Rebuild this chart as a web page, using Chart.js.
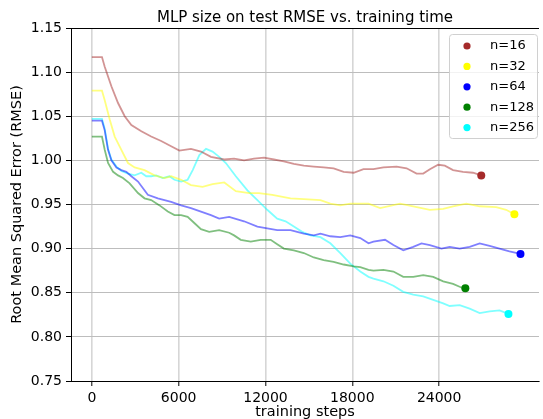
<!DOCTYPE html>
<html>
<head>
<meta charset="utf-8">
<script src="https://cdn.jsdelivr.net/npm/chart.js@4"></script>
<style>
  body { margin: 0; background: #fff; }
</style>
</head>
<body>
<canvas id="rmseChart" width="543" height="419"></canvas>
<script>
// series: training step -> test RMSE
const labels = ["n=16", "n=32", "n=64", "n=128", "n=256"];

const steps16 = [0,700,890,1350,1810,2270,2730,3420,4100,4790,5480,6050,6850,7540,8230,9150,9830,10520,11210,11900,12580,13270,13960,14650,15340,16020,16710,17400,18090,18770,19460,20150,21060,21750,22440,22900,23360,23930,24390,24960,25650,26340,26910];
const rmse16 = [1.117,1.117,1.106,1.084,1.065,1.050,1.040,1.033,1.027,1.022,1.016,1.011,1.013,1.010,1.004,1.001,1.002,1.000,1.002,1.003,1.001,0.999,0.996,0.994,0.993,0.992,0.991,0.987,0.986,0.990,0.990,0.992,0.993,0.991,0.985,0.985,0.990,0.995,0.994,0.989,0.987,0.986,0.983];

const steps32 = [0,700,890,1240,1580,2040,2500,2960,3640,4330,5020,5480,6170,6850,7650,8340,9150,9950,10870,11550,12470,13730,14650,15800,16480,17170,17860,19120,19920,21300,22210,23360,24280,24960,25880,26800,27940,28630,29200];
const rmse32 = [1.079,1.079,1.068,1.046,1.027,1.012,0.997,0.992,0.989,0.983,0.980,0.982,0.978,0.972,0.970,0.973,0.975,0.965,0.963,0.963,0.961,0.957,0.956,0.955,0.951,0.949,0.951,0.951,0.946,0.951,0.948,0.944,0.945,0.948,0.951,0.948,0.947,0.944,0.939];

const steps64 = [0,700,890,1120,1350,1700,2040,2380,2730,3190,3870,4560,5480,6170,6850,7540,8230,8800,9490,10520,11440,12120,12810,13730,14650,15340,15800,16480,17170,17860,18550,19120,19460,20260,20840,21520,22210,22780,23360,24160,24730,25420,26110,26800,27490,28170,28860,29620];
const rmse64 = [1.045,1.045,1.034,1.012,1.000,0.992,0.989,0.987,0.982,0.976,0.961,0.957,0.953,0.949,0.946,0.942,0.938,0.934,0.936,0.931,0.925,0.923,0.921,0.921,0.917,0.915,0.917,0.914,0.913,0.915,0.912,0.906,0.908,0.910,0.904,0.898,0.902,0.906,0.904,0.900,0.902,0.900,0.902,0.906,0.903,0.900,0.897,0.894];

const steps128 = [0,700,890,1120,1470,1810,2150,2610,3190,3640,4100,4680,5250,5710,6170,6620,7080,7540,8110,8800,9490,9830,10290,10980,11670,12360,12810,13270,13960,14650,15340,16020,16710,17400,18090,18550,19120,19460,20150,20840,21520,22210,22900,23590,24280,24960,25530,25810];
const rmse128 = [1.027,1.027,1.012,0.997,0.987,0.983,0.980,0.974,0.963,0.957,0.955,0.949,0.942,0.938,0.938,0.936,0.929,0.922,0.919,0.921,0.918,0.915,0.910,0.908,0.910,0.910,0.905,0.900,0.898,0.895,0.890,0.887,0.885,0.882,0.880,0.879,0.876,0.875,0.876,0.874,0.868,0.868,0.870,0.868,0.863,0.860,0.856,0.855];

const steps256 = [0,700,890,1120,1350,1700,2040,2500,2960,3420,3760,4100,4450,4900,5360,5710,6170,6620,6970,7430,7890,8340,8800,9260,9950,10750,11440,12120,12810,13390,13960,14530,15110,15800,16480,17170,17860,18550,19120,19460,20150,20840,21520,22210,22900,23590,24280,24730,25420,26110,26800,27490,28170,28790];
const rmse256 = [1.047,1.047,1.036,1.013,1.001,0.993,0.988,0.985,0.983,0.986,0.982,0.982,0.983,0.980,0.982,0.978,0.976,0.978,0.989,1.006,1.013,1.010,1.004,0.997,0.982,0.966,0.955,0.944,0.934,0.931,0.925,0.919,0.915,0.913,0.906,0.895,0.883,0.874,0.868,0.866,0.863,0.858,0.851,0.848,0.846,0.842,0.838,0.835,0.836,0.832,0.827,0.829,0.830,0.826];

const xTicks = [0, 6000, 12000, 18000, 24000];
const yTicks = [0.75, 0.80, 0.85, 0.90, 0.95, 1.00, 1.05, 1.10, 1.15];

const solid = ["#a52a2a", "#ffff00", "#0000ff", "#008000", "#00ffff"];
const faded = ["rgba(165,42,42,0.5)", "rgba(255,255,0,0.5)", "rgba(0,0,255,0.5)", "rgba(0,128,0,0.5)", "rgba(0,255,255,0.5)"];

const allSteps = [steps16, steps32, steps64, steps128, steps256];
const allRmse = [rmse16, rmse32, rmse64, rmse128, rmse256];

const font = "DejaVu Sans";

// build datasets; only the last point of each run gets a dot
const datasets = labels.map((label, i) => {
    const pts = allSteps[i].map((s, j) => ({ x: s, y: allRmse[i][j] }));
    const last = pts.length - 1;
    return {
        label,
        data: pts,
        borderColor: faded[i],
        borderWidth: 1.8,
        tension: 0,
        pointRadius: ctx => ctx.dataIndex === last ? 4 : 0,
        pointBackgroundColor: solid[i],
        pointBorderWidth: 0,
        pointHoverRadius: 0
    };
});

// matplotlib-like legend inside the axes + top spine
const boxLegend = {
    id: "boxLegend",
    afterDraw(chart) {
        const ctx = chart.ctx;
        const area = chart.chartArea;
        ctx.save();
        ctx.strokeStyle = "#000";
        ctx.lineWidth = 1;
        ctx.beginPath();
        ctx.moveTo(area.left, area.top + 0.5);
        ctx.lineTo(area.right, area.top + 0.5);
        ctx.stroke();

        const bx = 449.5, by = 34.5, bw = 88, bh = 104, r = 3;
        ctx.fillStyle = "rgba(255,255,255,0.8)";
        ctx.strokeStyle = "#d0d0d0";
        ctx.beginPath();
        ctx.roundRect(bx, by, bw, bh, r);
        ctx.fill();
        ctx.stroke();

        ctx.font = "13px '" + font + "'";
        ctx.textBaseline = "middle";
        ctx.textAlign = "left";
        chart.data.datasets.forEach((ds, i) => {
            const y = 46 + i * 20.4;
            ctx.fillStyle = solid[i];
            ctx.beginPath();
            ctx.arc(467, y, 3.6, 0, Math.PI * 2);
            ctx.fill();
            ctx.fillStyle = "#000";
            ctx.fillText(ds.label, 490, y);
        });
        ctx.restore();
    }
};

new Chart(document.getElementById("rmseChart").getContext("2d"), {
    type: "line",
    data: { datasets },
    plugins: [boxLegend],
    options: {
        responsive: false,
        animation: false,
        layout: { padding: 0 },
        plugins: {
            legend: { display: false },
            tooltip: { enabled: false },
            title: {
                display: true,
                text: "MLP size on test RMSE vs. training time",
                fullSize: false,
                color: "#000",
                font: { family: font, size: 15, weight: "normal" },
                padding: { top: 9, bottom: 1 }
            }
        },
        scales: {
            x: {
                type: "linear",
                min: -1440,
                max: 30900,
                afterBuildTicks: s => { s.ticks = xTicks.map(v => ({ value: v })); },
                afterFit: s => { s.height = 38; },
                ticks: {
                    color: "#000",
                    padding: 4,
                    maxRotation: 0,
                    font: { family: font, size: 14 },
                    callback: v => String(v)
                },
                grid: { color: "#d6d6d6", lineWidth: 1.6, tickColor: "#000", tickLength: 5, tickWidth: 1 },
                border: { display: true, color: "#000", width: 1 },
                title: {
                    display: true,
                    text: "training steps",
                    color: "#000",
                    font: { family: font, size: 14.5, lineHeight: 1 },
                    padding: { top: 0, bottom: 0 }
                }
            },
            y: {
                min: 0.75,
                max: 1.15,
                afterBuildTicks: s => { s.ticks = yTicks.map(v => ({ value: v })); },
                afterFit: s => { s.width = 71; },
                ticks: {
                    color: "#000",
                    padding: 4,
                    font: { family: font, size: 14 },
                    callback: v => Number(v).toFixed(2)
                },
                grid: { color: "#bdbdbd", lineWidth: 1, tickColor: "#000", tickLength: 5, tickWidth: 1 },
                border: { display: true, color: "#000", width: 1 },
                title: {
                    display: true,
                    text: "Root Mean Squared Error (RMSE)",
                    color: "#000",
                    font: { family: font, size: 14.5 },
                    padding: { top: 8.3, bottom: 0 }
                }
            }
        }
    }
});
</script>
</body>
</html>
